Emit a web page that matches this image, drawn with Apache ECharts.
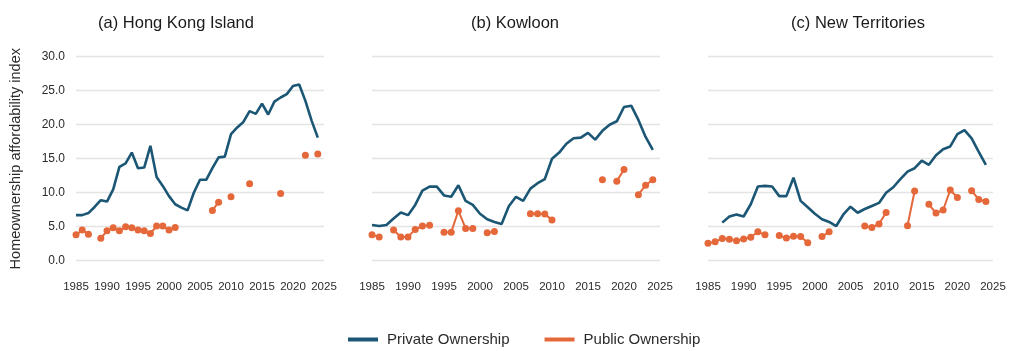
<!DOCTYPE html>
<html>
<head>
<meta charset="utf-8">
<script src="https://cdn.jsdelivr.net/npm/echarts@6/dist/echarts.min.js"></script>
<style>
html,body{margin:0;padding:0;background:#fff;}
#chart{width:1024px;height:351px;}
</style>
</head>
<body>
<div id="chart"></div>
<script>
// Years 1985..2024
const startYear = 1985;
const panelTitles = ['(a) Hong Kong Island', '(b) Kowloon', '(c) New Territories'];
const seriesNames = ['Private Ownership', 'Public Ownership'];
const yTicks = [0, 5, 10, 15, 20, 25, 30];
const xTicks = [1985, 1990, 1995, 2000, 2005, 2010, 2015, 2020, 2025];

const hkPrivate = [6.7, 6.7, 7.0, 7.9, 8.9, 8.7, 10.5, 13.8, 14.3, 15.9,
  13.6, 13.7, 16.9, 12.3, 11.0, 9.5, 8.3, 7.8, 7.4, 10.0,
  11.9, 11.9, 13.6, 15.2, 15.3, 18.6, 19.6, 20.4, 22.0, 21.6,
  23.1, 21.5, 23.4, 24.0, 24.5, 25.7, 25.9, 23.5, 20.6, 18.1];
const hkPublic = [3.8, 4.5, 3.9, null, 3.3, 4.4, 4.85, 4.4, 5.0, 4.85,
  4.5, 4.4, 4.0, 5.1, 5.1, 4.5, 4.9, null, null, null,
  null, null, 7.4, 8.6, null, 9.4, null, null, 11.3, null,
  null, null, null, 9.9, null, null, null, 15.5, null, 15.7];

const klPrivate = [5.25, 5.1, 5.25, 6.2, 7.1, 6.7, 8.2, 10.3, 10.9, 10.9,
  9.6, 9.4, 11.1, 8.8, 8.2, 6.9, 6.1, 5.7, 5.4, 8.0,
  9.4, 8.8, 10.6, 11.4, 12.0, 15.0, 15.9, 17.2, 18.0, 18.1,
  18.8, 17.8, 19.1, 20.0, 20.5, 22.6, 22.8, 20.7, 18.2, 16.3];
const klPublic = [3.8, 3.5, null, 4.5, 3.5, 3.5, 4.6, 5.1, 5.2, null,
  4.2, 4.2, 7.35, 4.75, 4.75, null, 4.1, 4.3, null, null,
  null, null, 6.9, 6.9, 6.85, 6.0, null, null, null, null,
  null, null, 11.9, null, 11.7, 13.4, null, 9.7, 11.1, 11.9];

const ntPrivate = [null, null, 5.6, 6.5, 6.8, 6.5, 8.3, 10.9, 11.0, 10.9,
  9.5, 9.5, 12.2, 8.8, 7.85, 6.9, 6.1, 5.7, 5.1, 6.8,
  7.95, 7.05, 7.6, 8.05, 8.5, 10.0, 10.8, 12.0, 13.1, 13.6,
  14.7, 14.1, 15.5, 16.4, 16.8, 18.6, 19.2, 18.0, 16.0, 14.1];
const ntPublic = [2.55, 2.8, 3.25, 3.15, 2.95, 3.2, 3.45, 4.25, 3.8, null,
  3.7, 3.35, 3.6, 3.55, 2.65, null, 3.55, 4.25, null, null,
  null, null, 5.1, 4.9, 5.4, 7.1, null, null, 5.15, 10.25,
  null, 8.3, 7.0, 7.45, 10.4, 9.3, null, 10.3, 9.0, 8.7];

const panels = [
  {priv: hkPrivate, pub: hkPublic},
  {priv: klPrivate, pub: klPublic},
  {priv: ntPrivate, pub: ntPublic}
];

const BLUE = '#1b5775';
const ORANGE = '#e5683b';
const TEXT = '#2b2b2b';
const FONT = 'Liberation Sans, Arial, Helvetica, sans-serif';

const gridLayout = [
  {left: 76, width: 248},
  {left: 372, width: 288},
  {left: 708, width: 285}
];
const titleCenters = [171, 510, 853];

function toPairs(arr) {
  return arr.map((v, i) => [startYear + i, v == null ? '-' : v]);
}

const grids = [], xAxes = [], yAxes = [], series = [], titles = [];
panels.forEach((p, i) => {
  grids.push({left: gridLayout[i].left, width: gridLayout[i].width, top: 56.7, height: 204});
  titles.push({
    text: panelTitles[i], left: titleCenters[i], top: 10, textAlign: 'center',
    textStyle: {fontFamily: FONT, fontSize: 16.5, fontWeight: 'normal', color: '#1a1a1a'}
  });
  xAxes.push({
    type: 'value', gridIndex: i, min: xTicks[0], max: xTicks[xTicks.length - 1], interval: 5,
    axisLine: {show: false}, axisTick: {show: false}, splitLine: {show: false},
    axisLabel: {fontFamily: FONT, fontSize: 11.5, color: TEXT, margin: 20,
      formatter: v => String(v), showMinLabel: true, showMaxLabel: true}
  });
  yAxes.push({
    type: 'value', gridIndex: i, min: yTicks[0], max: yTicks[yTicks.length - 1], interval: 5,
    name: i === 0 ? 'Homeownership affordability index' : '',
    nameLocation: 'middle', nameGap: 53,
    nameTextStyle: {fontFamily: FONT, fontSize: 14.5, color: TEXT},
    axisLine: {show: false}, axisTick: {show: false},
    axisLabel: {show: i === 0, fontFamily: FONT, fontSize: 12, color: TEXT, margin: 11,
      formatter: v => v.toFixed(1)},
    splitLine: {show: true, lineStyle: {color: '#e4e4e4', width: 1.3}}
  });
  series.push({
    name: seriesNames[0], type: 'line', xAxisIndex: i, yAxisIndex: i,
    data: toPairs(p.priv), showSymbol: false, connectNulls: false,
    lineStyle: {color: BLUE, width: 2.6}, itemStyle: {color: BLUE},
    animation: false, z: 3
  });
  series.push({
    name: seriesNames[1], type: 'line', xAxisIndex: i, yAxisIndex: i,
    data: toPairs(p.pub), showSymbol: true, showAllSymbol: true, symbol: 'circle', symbolSize: 7,
    connectNulls: false,
    lineStyle: {color: ORANGE, width: 2}, itemStyle: {color: ORANGE},
    animation: false, z: 2
  });
});

const chart = echarts.init(document.getElementById('chart'), null, {renderer: 'canvas'});
chart.setOption({
  animation: false,
  backgroundColor: '#ffffff',
  title: titles,
  grid: grids,
  xAxis: xAxes,
  yAxis: yAxes,
  series: series,
  legend: {
    data: [
      {name: seriesNames[0], icon: 'rect', itemStyle: {color: BLUE}},
      {name: seriesNames[1], icon: 'rect', itemStyle: {color: ORANGE}}
    ],
    left: 343, top: 327, itemWidth: 30, itemHeight: 4, itemGap: 35,
    textStyle: {fontFamily: FONT, fontSize: 15, color: TEXT, padding: [0, 0, 0, 4]},
    selectedMode: false
  }
});
</script>
</body>
</html>
